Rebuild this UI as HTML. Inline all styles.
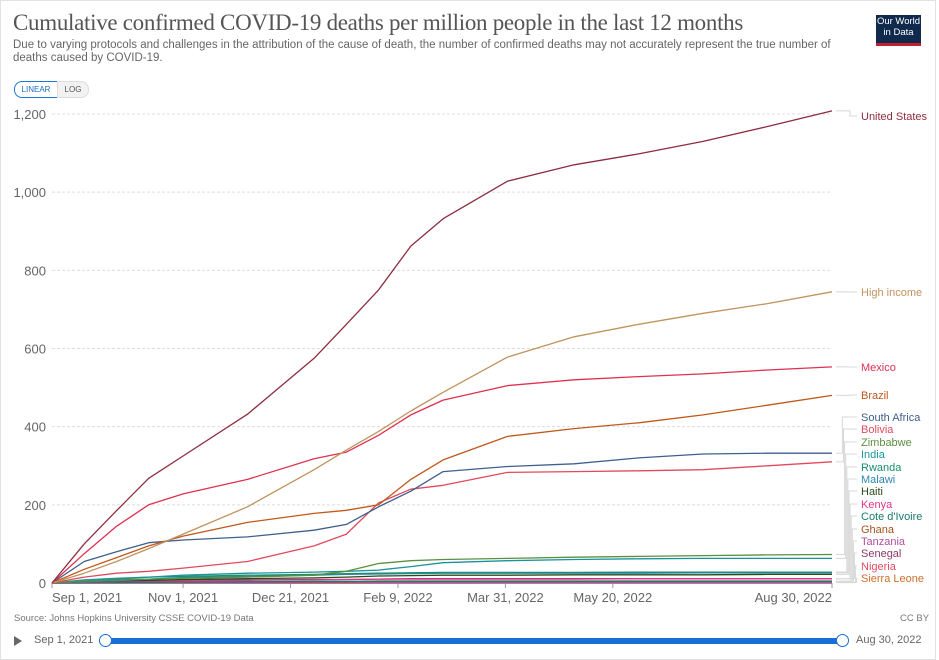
<!DOCTYPE html>
<html><head><meta charset="utf-8">
<style>
body{margin:0;width:939px;height:652px;background:#fff;font-family:"Liberation Sans",sans-serif;overflow:hidden}
#card{position:absolute;left:0;top:0;width:936px;height:660px;border:1px solid #e2e2e2;box-sizing:border-box}
</style></head><body>
<div id="card"></div>
<div style="position:absolute;left:13px;top:10px;font-family:'Liberation Serif',serif;font-size:23px;color:#555;letter-spacing:-0.3px">Cumulative confirmed COVID-19 deaths per million people in the last 12 months</div>
<div style="position:absolute;left:13px;top:39px;width:830px;font-size:11.5px;line-height:13px;color:#666">Due to varying protocols and challenges in the attribution of the cause of death, the number of confirmed deaths may not accurately represent the true number of deaths caused by COVID-19.</div>
<div style="position:absolute;left:876px;top:15px;width:45px;height:27px;background:#0f2a4d;border-bottom:3px solid #c0202f;color:#fff;font-size:9.5px;line-height:11px;text-align:center;padding-top:1px;box-sizing:content-box">Our World<br>in Data</div>
<div style="position:absolute;left:14px;top:81px;width:42px;height:15px;border:1px solid #1a78d6;border-radius:8px 0 0 8px;font-size:8px;line-height:15px;text-align:center;color:#1a6fc4">LINEAR</div>
<div style="position:absolute;left:57px;top:81px;width:30px;height:15px;border:1px solid #ddd;border-radius:0 8px 8px 0;background:#f2f2f2;font-size:8px;line-height:15px;text-align:center;color:#555">LOG</div>
<svg id="chart" width="939" height="652" style="position:absolute;left:0;top:0"></svg>
<div style="position:absolute;left:14px;top:613px;font-size:9.5px;color:#777">Source: Johns Hopkins University CSSE COVID-19 Data</div>
<div style="position:absolute;left:900px;top:613px;font-size:9.5px;color:#777">CC BY</div>
<div style="position:absolute;left:14px;top:636px;width:0;height:0;border-left:8px solid #666;border-top:5px solid transparent;border-bottom:5px solid transparent"></div>
<div style="position:absolute;left:34px;top:634px;font-size:11px;color:#666">Sep 1, 2021</div>
<div style="position:absolute;left:106px;top:638px;width:738px;height:6px;background:#1a6fd6"></div>
<div style="position:absolute;left:99px;top:634px;width:11px;height:11px;border:1.5px solid #1a6fd6;border-radius:50%;background:#fff"></div>
<div style="position:absolute;left:836px;top:634px;width:11px;height:11px;border:1.5px solid #1a6fd6;border-radius:50%;background:#fff"></div>
<div style="position:absolute;left:856px;top:634px;font-size:11px;color:#666">Aug 30, 2022</div>
<script>
const days=[0,15,30,45,61,91,122,137,152,167,182,212,243,273,303,333,363];
const seriesNames=["United States","High income","Mexico","Brazil","South Africa","Bolivia","Zimbabwe","India","Rwanda","Malawi","Haiti","Kenya","Cote d'Ivoire","Ghana","Tanzania","Senegal","Nigeria","Sierra Leone"];
const usVals=[0,100,185,268,325,432,575,662,750,862,932,1028,1070,1098,1130,1168,1208];
const highIncomeVals=[0,25,55,88,125,195,290,340,388,440,488,578,630,662,690,715,745];
const mexicoVals=[0,75,145,200,228,265,318,335,378,430,468,505,520,528,535,545,553];
const brazilVals=[0,35,65,95,120,155,178,186,200,265,315,375,395,410,430,455,480];
const southAfricaVals=[0,55,80,103,110,118,135,150,195,235,285,298,305,320,330,332,332];
const boliviaVals=[0,15,25,30,38,55,95,125,205,240,250,283,285,287,290,300,310];
const zimbabweVals=[0,5,8,10,12,15,20,30,50,57,60,63,66,68,70,72,73];
const indiaVals=[0,8,12,15,20,25,28,30,33,42,52,57,60,62,63,63,63];
const rwandaVals=[0,5,10,15,17,20,22,24,25,26,27,27,27,28,28,28,28];
const malawiVals=[0,3,6,10,14,17,20,22,23,24,25,25,25,25,26,26,26];
const haitiVals=[0,3,5,7,9,11,13,15,18,19,20,20,21,21,21,22,22];
const kenyaVals=[0,2,4,5,6,7,8,9,10,10,10,10,10,11,11,11,11];
const coteVals=[0,1,2,2,3,3,4,4,5,5,5,5,5,5,5,5,5];
const ghanaVals=[0,1,1,2,2,3,3,3,4,4,4,4,4,4,4,4,4];
const tanzaniaVals=[0,0.2,0.3,0.4,0.5,0.6,0.7,0.8,0.9,1,1,1,1,1,1,1,1];
const senegalVals=[0,2,4,6,7,8,9,9,10,11,11,11,11,11,11,11,11];
const nigeriaVals=[0,0.3,0.5,0.7,0.8,1,1.1,1.2,1.3,1.4,1.4,1.5,1.5,1.5,1.5,1.5,1.5];
const sierraVals=[0,0.3,0.5,0.7,0.9,1,1.1,1.2,1.3,1.4,1.4,1.5,1.5,1.5,1.5,1.5,1.5];
const allVals=[usVals,highIncomeVals,mexicoVals,brazilVals,southAfricaVals,boliviaVals,zimbabweVals,indiaVals,rwandaVals,malawiVals,haitiVals,kenyaVals,coteVals,ghanaVals,tanzaniaVals,senegalVals,nigeriaVals,sierraVals];
const colors=["#8c2d3f","#c0935f","#e0304f","#c0581a","#3f5f8c","#e24a5c","#5b8f42","#18959b","#1a8e6d","#2a88b0","#2a4a1c","#e0358a","#1b7a72","#a6521f","#b04fa0","#8a3a6b","#e04c62","#c9702d"];
const labelY=[116,292,367,395,417,429,442,454,467,479,491,504,516,529,541,553,566,578];
const yTicks=[0,200,400,600,800,1000,1200];
const yTickLabels=["0","200","400","600","800","1,000","1,200"];
const xTickDays=[0,61,111,161,211,261,363];
const xTickLabels=["Sep 1, 2021","Nov 1, 2021","Dec 21, 2021","Feb 9, 2022","Mar 31, 2022","May 20, 2022","Aug 30, 2022"];
const X=d=>52+d*(832-52)/363;
const Y=v=>583-v*(583-114)/1200;
const svg=document.getElementById('chart');
const NS="http://www.w3.org/2000/svg";
function mk(t,a){const e=document.createElementNS(NS,t);for(const k in a)e.setAttribute(k,a[k]);svg.appendChild(e);return e;}
yTicks.forEach((v,i)=>{
 if(v>0){const g=mk('line',{x1:52,x2:832,y1:Y(v),y2:Y(v),stroke:'#ddd','stroke-dasharray':'3,2'});
 
 }
 const t=mk('text',{x:46,y:Y(v)+5,'text-anchor':'end','font-size':13,fill:'#666'});t.textContent=yTickLabels[i];
 
 
});
const ax=mk('line',{x1:52,x2:832,y1:583.5,y2:583.5,stroke:'#999'});


xTickDays.forEach((d,i)=>{
 const tk=mk('line',{x1:X(d),x2:X(d),y1:583,y2:588,stroke:'#999'});
 
 
 const anchor=i===0?'start':(i===xTickDays.length-1?'end':'middle');
 const t=mk('text',{x:X(d),y:602,'text-anchor':anchor,'font-size':13,fill:'#666'});t.textContent=xTickLabels[i];
 
 
});
for(let s=allVals.length-1;s>=0;s--){
 const vals=allVals[s];
 const pts=days.map((d,i)=>X(d).toFixed(1)+','+Y(vals[i]).toFixed(1)).join(' ');
 const p=mk('polyline',{points:pts,fill:'none',stroke:colors[s],'stroke-width':1.3,'stroke-linejoin':'round'});
 
 
 const ey=Y(vals[vals.length-1]);const ly=labelY[s];
 const bx=s<4?850:838+s*1.1;
 const c=mk('polyline',{points:`${X(363)+4},${ey} ${bx},${ey} ${bx},${ly} 857,${ly}`,fill:'none',stroke:'#d8d8d8','stroke-width':1});
 
 
 const t=mk('text',{x:861,y:ly+4,'font-size':11,fill:colors[s]});t.textContent=seriesNames[s];
 
 
}
</script>
</body></html>
